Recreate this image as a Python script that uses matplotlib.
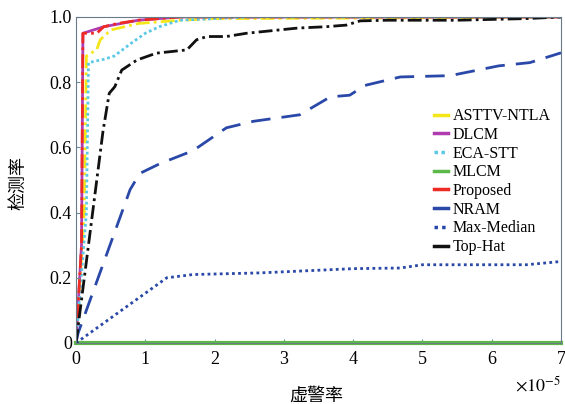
import matplotlib
matplotlib.use("Agg")
import matplotlib.pyplot as plt

plt.rcParams["font.family"] = ["Liberation Serif", "Noto Sans CJK SC"]
plt.rcParams["mathtext.fontset"] = "stix"

# false alarm rate (x 1e-5) / detection rate pairs for each detector
prop_x = [0, 0.08, 0.1, 0.3, 0.4, 0.6, 0.9, 1.5, 7]
prop_y = [0, 0.3, 0.95, 0.95, 0.97, 0.98, 0.99, 1.0, 1.0]

dlcm_x = [0, 0.08, 0.1, 0.4, 0.9, 1.5, 7]
dlcm_y = [0, 0.3, 0.95, 0.97, 0.99, 1.0, 1.0]

asttv_x = [0, 0.12, 0.15, 0.3, 0.35, 0.5, 0.9, 1.5, 2.0, 4.5, 7]
asttv_y = [0, 0.4, 0.88, 0.9, 0.93, 0.96, 0.98, 0.99, 0.995, 0.997, 1.0]

eca_x = [0, 0.15, 0.18, 0.4, 0.55, 0.8, 1.0, 1.2, 1.5, 2.5, 7]
eca_y = [0, 0.4, 0.86, 0.87, 0.88, 0.92, 0.95, 0.97, 0.99, 1.0, 1.0]

tophat_x = [0, 0.39, 0.48, 0.56, 0.66, 0.88, 1.16, 1.6, 1.74, 1.89, 2.17,
            2.46, 3.2, 3.6, 3.9, 4.1, 4.5, 5.5, 6.5, 7]
tophat_y = [0, 0.65, 0.766, 0.786, 0.837, 0.868, 0.889, 0.899, 0.93, 0.94,
            0.94, 0.95, 0.966, 0.97, 0.975, 0.988, 0.99, 0.99, 0.995, 1.0]

nram_x = [0, 0.03, 0.78, 0.92, 1.21, 1.69, 2.17, 2.56, 3.23, 3.67, 3.95,
          4.17, 4.68, 5.4, 6.1, 6.55, 7]
nram_y = [0, 0.03, 0.47, 0.52, 0.55, 0.59, 0.66, 0.68, 0.70, 0.755, 0.76,
          0.79, 0.816, 0.82, 0.85, 0.86, 0.89]

maxmed_x = [0, 1.31, 1.69, 2.65, 4.0, 4.68, 5.0, 6.5, 7]
maxmed_y = [0, 0.2, 0.21, 0.215, 0.228, 0.23, 0.24, 0.24, 0.25]

mlcm_x = [0, 7]
mlcm_y = [0, 0]

xticks = [0, 1, 2, 3, 4, 5, 6, 7]
yticks = [0, 0.2, 0.4, 0.6, 0.8, 1.0]
ytick_labels = ["0", "0.2", "0.4", "0.6", "0.8", "1.0"]

fig = plt.figure(figsize=(5.65, 4.04), dpi=100)
ax = fig.add_axes([0.1345, 0.151, 0.8585, 0.807])

ax.plot(asttv_x, asttv_y, color="#f5e61a", lw=2, ls=(0, (5, 1.5, 1, 1.5)),
        label="ASTTV-NTLA")
ax.plot(dlcm_x, dlcm_y, color="#b03cb0", lw=2, ls="-", label="DLCM", zorder=1)
ax.plot(eca_x, eca_y, color="#5bc8e6", lw=2, ls=(0, (1, 1)), label="ECA-STT")
ax.plot(mlcm_x, mlcm_y, color="#5cb848", lw=3, ls="-", label="MLCM",
        clip_on=False)
ax.plot(prop_x, prop_y, color="#ee2a24", lw=2, ls=(0, (5, 1.5, 1, 1.5)),
        label="Proposed")
ax.plot(nram_x, nram_y, color="#2a48a8", lw=2, ls=(0, (7, 4)), label="NRAM")
ax.plot(maxmed_x, maxmed_y, color="#2a48a8", lw=2, ls=(0, (1, 1.2)),
        label="Max-Median")
ax.plot(tophat_x, tophat_y, color="#111111", lw=2, ls=(0, (5, 1.5, 1, 1.5)),
        label="Top-Hat")

ax.set_xlim(0, 7)
ax.set_ylim(0, 1.0)
ax.set_xticks(xticks)
ax.set_xticklabels([str(t) for t in xticks])
ax.set_yticks(yticks)
ax.set_yticklabels(ytick_labels)
ax.tick_params(direction="in", length=3, color="#6a8a9a", labelsize=13,
               top=False, right=False)
ax.tick_params(axis="x", pad=6)
ax.tick_params(axis="y", pad=3)
for s in ax.spines.values():
    s.set_color("#6a7a88")
    s.set_linewidth(0.8)

ax.text(1.0, -0.1, r"$\times10^{-5}$", transform=ax.transAxes,
        ha="right", va="top", fontsize=13)

# axis titles placed in figure pixels
fig.text(316 / 565, 1 - 396 / 404, "虚警率", fontsize=13,
         family=["Noto Sans CJK SC"], ha="center", va="center")
fig.text(18 / 565, 1 - 183 / 404, "检测率", fontsize=13, rotation=90,
         family=["Noto Sans CJK SC"], ha="center", va="center")

leg = ax.legend(loc="upper left", bbox_to_anchor=(0.725, 0.74), frameon=False,
                fontsize=11.5, handlelength=0.9, handletextpad=0.25,
                labelspacing=0.17, borderaxespad=0)
for h in leg.get_lines():
    h.set_linewidth(2.5)
    if h.get_label() not in ("ECA-STT", "Max-Median"):
        h.set_linestyle("-")

fig.savefig("out.png", dpi=100)
